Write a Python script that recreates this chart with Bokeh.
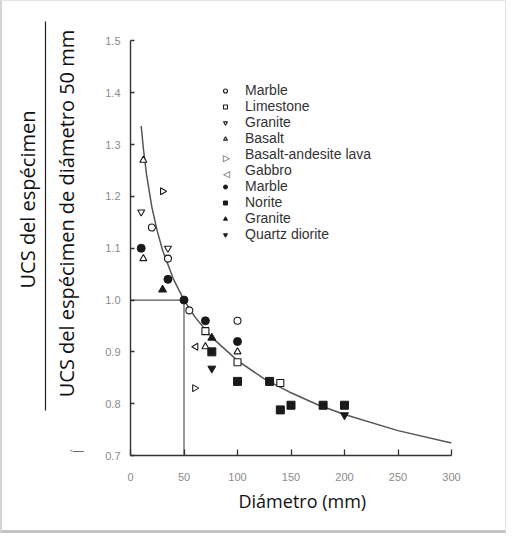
import math
from bokeh.plotting import figure
from bokeh.layouts import row
from bokeh.models import (Range1d, Legend, LegendItem, Label, FixedTicker, Title,
                          CustomJSTickFormatter)
from bokeh.core.properties import value
from bokeh.embed import file_html
from bokeh.resources import INLINE

# ---- data ----
marble_o_x = [20, 35, 55, 100]
marble_o_y = [1.14, 1.08, 0.98, 0.96]
limestone_x = [70, 100, 140]
limestone_y = [0.94, 0.88, 0.84]
granite_o_x = [10, 35]
granite_o_y = [1.17, 1.10]
basalt_x = [12, 12, 70, 100]
basalt_y = [1.27, 1.08, 0.91, 0.90]
balava_x = [30, 60]
balava_y = [1.21, 0.83]
gabbro_x = [61]
gabbro_y = [0.91]
marble_f_x = [10, 35, 50, 70, 100]
marble_f_y = [1.10, 1.04, 1.00, 0.96, 0.92]
norite_x = [76, 100, 130, 140, 150, 180, 200]
norite_y = [0.90, 0.843, 0.843, 0.788, 0.797, 0.797, 0.797]
granite_f_x = [30, 76]
granite_f_y = [1.02, 0.927]
qdiorite_x = [76, 200]
qdiorite_y = [0.868, 0.778]

# fitted curve
curve_x = [10, 12, 15, 20, 25, 30, 40, 50, 60, 75, 100, 125, 150, 175, 200, 250, 300]
curve_y = [1.336, 1.293, 1.242, 1.179, 1.133, 1.096, 1.041, 1.000, 0.968, 0.930,
           0.883, 0.848, 0.821, 0.798, 0.779, 0.748, 0.724]

# reference lines (d = 50 mm, ratio = 1)
ref_x0 = [0, 50]
ref_y0 = [1.0, 0.7]
ref_x1 = [50, 50]
ref_y1 = [1.0, 1.0]

x_ticks = [0, 50, 100, 150, 200, 250, 300]
y_ticks = [0.7, 0.8, 0.9, 1.0, 1.1, 1.2, 1.3, 1.4, 1.5]

legend_labels = ["Marble", "Limestone", "Granite", "Basalt", "Basalt-andesite lava",
                 "Gabbro", "Marble", "Norite", "Granite", "Quartz diorite"]

ylabel_top = "UCS del espécimen"
ylabel_bottom = "UCS del espécimen de diámetro 50 mm"
xlabel = "Diámetro (mm)"

# ---------------- left strip: fraction-style y label ----------------
# (its frame is aligned with the main plot frame: page x 10..110, page y 9..463)
lp = figure(width=100, height=529, output_backend="svg", toolbar_location=None,
            x_range=Range1d(10, 110), y_range=Range1d(463, 9),
            x_axis_type=None, y_axis_type=None,
            min_border=0, min_border_left=0, min_border_right=0,
            min_border_top=0, min_border_bottom=75)
lp.title = None
lp.outline_line_color = None
lp.grid.visible = False
lab_font = value("Open Sans")
lp.text(x=[35], y=[207], text=[ylabel_top], angle=math.pi / 2, text_align="center",
        text_baseline="middle", text_font=lab_font, text_font_size="20px",
        text_color="#111111")
lp.text(x=[73.5], y=[221], text=[ylabel_bottom], angle=math.pi / 2, text_align="center",
        text_baseline="middle", text_font=lab_font, text_font_size="20px",
        text_color="#111111")
lp.segment(x0=[53], y0=[29], x1=[53], y1=[418], line_color="#222222", line_width=1.2)
lp.text(x=[84], y=[457], text=["·—"], text_align="center", text_baseline="middle",
        text_font=value("Liberation Sans"), text_font_size="11px", text_color="#444444")

# ---------------- main plot ----------------
p = figure(width=403, height=529, output_backend="svg", toolbar_location=None,
           x_range=Range1d(0, 300), y_range=Range1d(0.7, 1.5762),
           min_border_left=27, min_border_right=54, min_border_top=0, min_border_bottom=75)
p.title = None
p.outline_line_color = None
p.grid.visible = False

for ax in (p.xaxis[0], p.yaxis[0]):
    ax.axis_line_color = "#333333"
    ax.axis_line_width = 1.4
    ax.major_tick_line_color = "#333333"
    ax.major_tick_line_width = 1.3
    ax.major_tick_in = 6
    ax.major_tick_out = 0
    ax.minor_tick_line_color = None
    ax.major_label_text_color = "#8a8a8a"
    ax.major_label_text_font = "Liberation Sans"
    ax.major_label_text_font_size = "11px"
p.xaxis.ticker = FixedTicker(ticks=x_ticks)
p.yaxis.ticker = FixedTicker(ticks=y_ticks)
p.yaxis.bounds = (0.7, 1.5)
p.yaxis.major_tick_in = 4
p.xaxis.major_label_standoff = 17
p.yaxis.major_label_standoff = 10
p.yaxis.formatter = CustomJSTickFormatter(code="return tick.toFixed(1);")

p.add_layout(Title(text=xlabel, align="left", offset=108, standoff=6,
                   text_font="Open Sans", text_font_size="18px",
                   text_font_style="normal", text_color="#111111"), "below")

p.segment(ref_x0, ref_y0, ref_x1, ref_y1, line_color="#555555", line_width=1.2)
p.line(curve_x, curve_y, line_color="#555555", line_width=1.5)

ink = "#1a1a1a"
ms = 7
r1 = p.scatter(marble_o_x, marble_o_y, marker="circle", size=ms, fill_color="white", line_color=ink, line_width=1.1)
r2 = p.scatter(limestone_x, limestone_y, marker="square", size=ms, fill_color="white", line_color=ink, line_width=1.1)
r3 = p.scatter(granite_o_x, granite_o_y, marker="inverted_triangle", size=ms, fill_color="white", line_color=ink, line_width=1.1)
r4 = p.scatter(basalt_x, basalt_y, marker="triangle", size=ms, fill_color="white", line_color=ink, line_width=1.1)
r5 = p.scatter(balava_x, balava_y, marker="triangle", angle=-math.pi / 2, size=ms, fill_color="white", line_color=ink, line_width=1.1)
r6 = p.scatter(gabbro_x, gabbro_y, marker="triangle", angle=math.pi / 2, size=ms, fill_color="white", line_color=ink, line_width=1.1)
r7 = p.scatter(marble_f_x, marble_f_y, marker="circle", size=8, fill_color=ink, line_color=ink)
r8 = p.scatter(norite_x, norite_y, marker="square", size=8, fill_color=ink, line_color=ink)
r9 = p.scatter(granite_f_x, granite_f_y, marker="triangle", size=8, fill_color=ink, line_color=ink)
r10 = p.scatter(qdiorite_x, qdiorite_y, marker="inverted_triangle", size=8, fill_color=ink, line_color=ink)

# invisible stand-ins for the rotated-triangle legend entries
d5 = p.scatter([], [], marker="triangle", size=ms, fill_alpha=0, line_alpha=0)
d6 = p.scatter([], [], marker="triangle", size=ms, fill_alpha=0, line_alpha=0)

rends = [r1, r2, r3, r4, d5, d6, r7, r8, r9, r10]
legend = Legend(items=[LegendItem(label=l, renderers=[r]) for l, r in zip(legend_labels, rends)],
                location=(90, 213), padding=0, margin=0, spacing=0,
                glyph_width=10, glyph_height=15, label_height=15, label_standoff=15,
                border_line_color=None, background_fill_alpha=0,
                label_text_font="Liberation Sans", label_text_font_size="14px",
                label_text_color="#333333")
p.add_layout(legend, "center")

for sym, yy in (("▷", 298), ("◁", 282)):
    p.add_layout(Label(x=96, y=yy, x_units="screen", y_units="screen", text=sym,
                       text_align="center", text_baseline="middle",
                       text_font="DejaVu Sans", text_font_size="9px", text_color=ink))

layout = row(lp, p)
layout.styles = {"border-left": "2px solid #d4d4d4", "border-top": "1px solid #e4e4e4",
                 "border-right": "1px solid #e0e0e0", "border-bottom": "3px solid #c4c4c4"}

open("out.html", "w").write(file_html(layout, INLINE))
